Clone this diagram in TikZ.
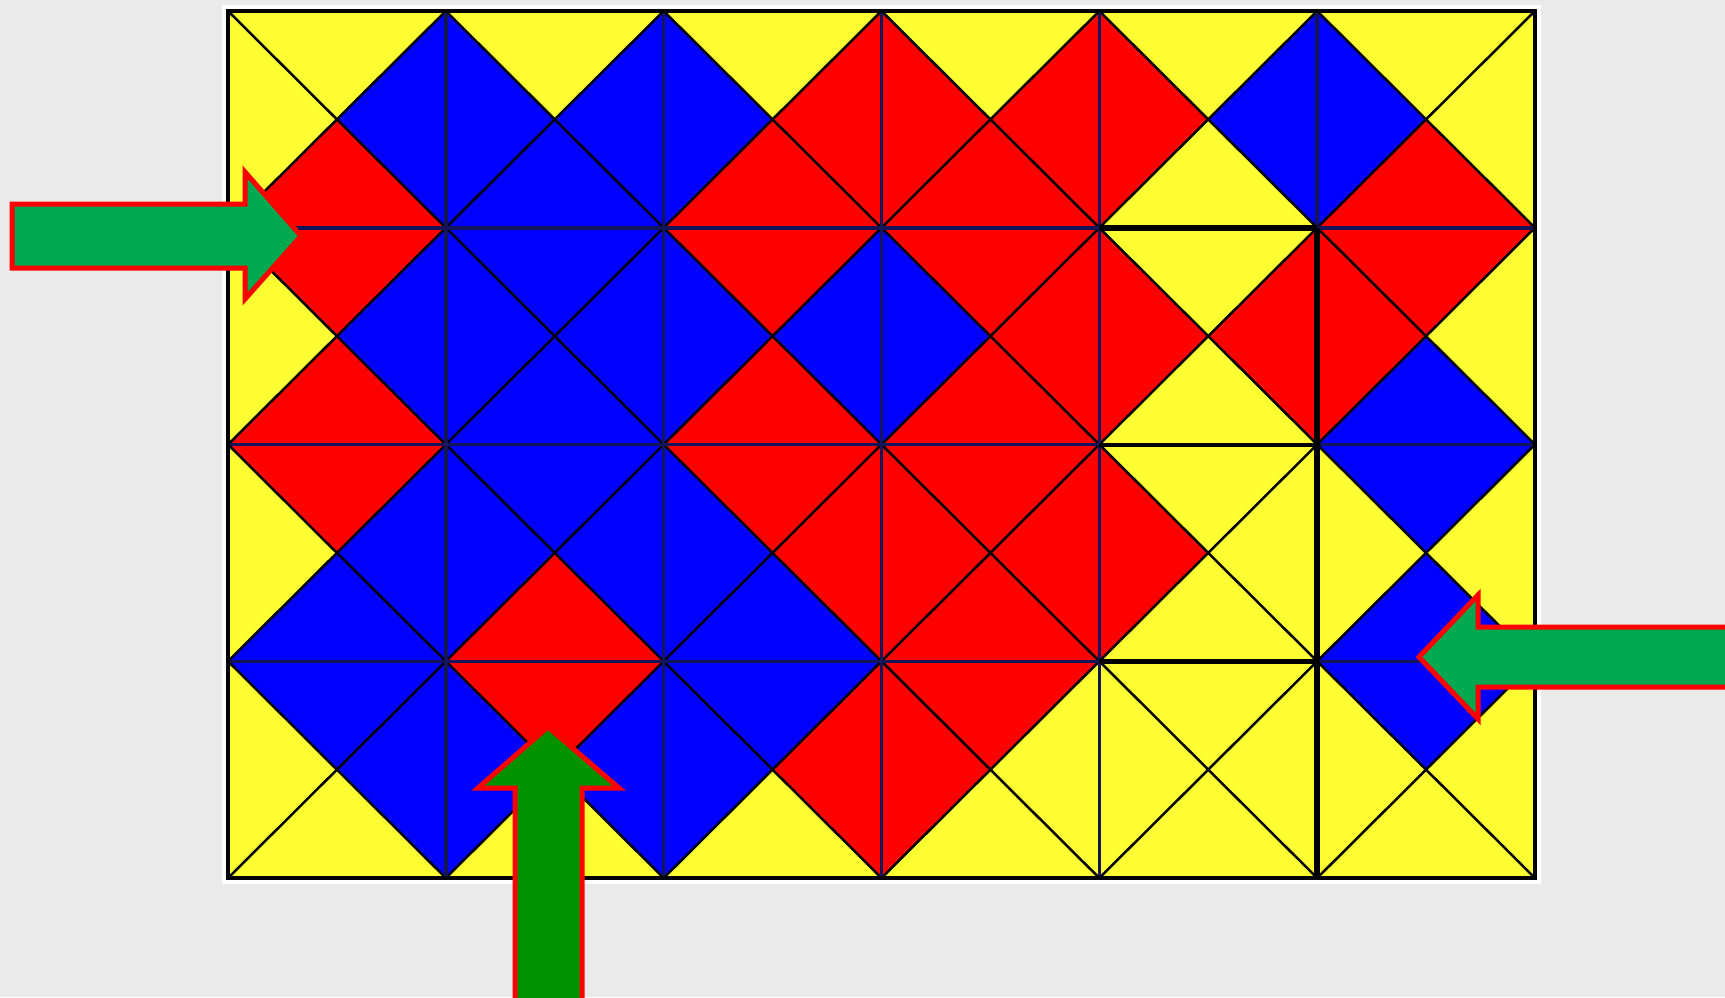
\documentclass[tikz,border=0pt]{standalone}
\usepackage{tikz}
\definecolor{tileY}{RGB}{255,255,51}
\definecolor{tileR}{RGB}{255,0,0}
\definecolor{tileB}{RGB}{0,0,255}
\definecolor{gridline}{RGB}{20,20,90}
\definecolor{paper}{RGB}{234,234,234}
\definecolor{arrowgreen}{RGB}{0,168,80}
\definecolor{arrowdark}{RGB}{0,145,0}
\tikzset{
	bigarrow/.style={draw=red, line width=0.5mm, line join=miter},
}

\begin{document}
\begin{tikzpicture}[x=0.1mm, y=-0.1mm]
			% Background
			\useasboundingbox (0,0) rectangle (1725,997);
			\fill[paper] (0,0) rectangle (1725,997);
			\fill[white] (222,5) rectangle (1541,884);
			% Tiles: column/row/top/right/bottom/left
			\begin{scope}[shift={(228,11)}, x=21.783mm, y=-21.675mm]
				\foreach \cx/\cy/\ct/\cr/\cb/\cl in {
					0/0/Y/B/R/Y, 1/0/Y/B/B/B, 2/0/Y/R/R/B, 3/0/Y/R/R/R, 4/0/Y/B/Y/R, 5/0/Y/Y/R/B,
					0/1/R/B/R/Y, 1/1/B/B/B/B, 2/1/R/B/R/B, 3/1/R/R/R/B, 4/1/Y/R/Y/R, 5/1/R/Y/B/R,
					0/2/R/B/B/Y, 1/2/B/B/R/B, 2/2/R/R/B/B, 3/2/R/R/R/R, 4/2/Y/Y/Y/R, 5/2/B/Y/B/Y,
					0/3/B/B/Y/Y, 1/3/R/B/Y/B, 2/3/B/R/Y/B, 3/3/R/Y/Y/R, 4/3/Y/Y/Y/Y, 5/3/B/Y/Y/Y}{
					\coordinate (mid) at (\cx+0.5,\cy+0.5);
					\fill[tile\ct] (\cx,\cy) -- (\cx+1,\cy) -- (mid) -- cycle;
					\fill[tile\cr] (\cx+1,\cy) -- (\cx+1,\cy+1) -- (mid) -- cycle;
					\fill[tile\cb] (\cx+1,\cy+1) -- (\cx,\cy+1) -- (mid) -- cycle;
					\fill[tile\cl] (\cx,\cy+1) -- (\cx,\cy) -- (mid) -- cycle;
					\draw[black, line width=0.25mm] (\cx,\cy) -- (\cx+1,\cy+1)
						(\cx+1,\cy) -- (\cx,\cy+1);
				}
				% Grid lines
				\foreach \gx in {1,...,5}
					\draw[gridline, line width=0.35mm] (\gx,0) -- (\gx,4);
				\foreach \gy in {1,2,3}
					\draw[gridline, line width=0.35mm] (0,\gy) -- (6,\gy);
				% Heavier segments
				\draw[black, line width=0.55mm] (4,1) -- (5,1) (5,1) -- (5,4) (4,3) -- (5,3);
				\draw[black, line width=0.4mm] (4,2) -- (5,2);
				\draw[black, line width=0.35mm] (0,0) rectangle (6,4);
			\end{scope}
			% Arrows
			\begin{scope}
				\clip (0,0) rectangle (1725,997);
				\fill[arrowgreen, bigarrow] (12,204) -- (245,204) -- (245,172) -- (301,236)
					-- (245,299) -- (245,268) -- (12,268) -- cycle;
				\fill[arrowdark, bigarrow] (515,1010) -- (515,788) -- (478,788) -- (548,727)
					-- (619,788) -- (582,788) -- (582,1010) -- cycle;
				\fill[arrowgreen, bigarrow] (1740,627) -- (1478,627) -- (1478,595) -- (1419,657)
					-- (1478,719) -- (1478,687) -- (1740,687) -- cycle;
			\end{scope}
		\end{tikzpicture}
\end{document}
